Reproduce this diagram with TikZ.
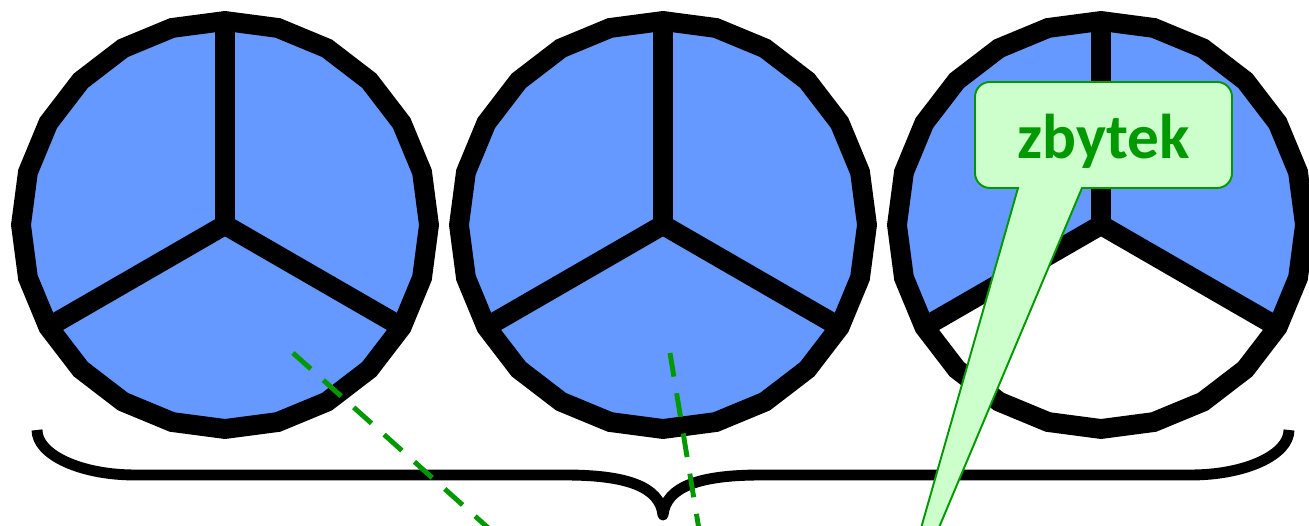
\documentclass[tikz,border=0pt]{standalone}
\usepackage{fontspec}
\setsansfont{Carlito}
\usetikzlibrary{calc}
\definecolor{PieBlue}{HTML}{6699FF}
\definecolor{TagGreen}{HTML}{009900}
\definecolor{TagFill}{HTML}{CCFFCC}
\tikzset{
  rim/.style={draw=black,line width=11.3pt,line join=miter},
  spoke/.style={draw=black,line width=11.3pt,line join=miter},
  hint/.style={TagGreen,line width=2.8pt,dash pattern=on 13.6pt off 9.6pt},
  bracket/.style={draw=black,line width=6.2pt,line join=round},
  tag/.style={draw=TagGreen,fill=TagFill,line width=1.1pt},
}
\begin{document}
\begin{tikzpicture}[x=0.02cm,y=0.02cm]
\useasboundingbox (0,0) rectangle (1309,526);
\clip (0,0) rectangle (1309,526);
% three pies, the last one with its bottom third left empty
\foreach \n/\cx/\low in {1/225/PieBlue,2/663/PieBlue,3/1101/white}{
  \coordinate (c\n) at (\cx,301);
  \fill[PieBlue] (c\n) -- plot[samples=9,domain=90:210] ({\cx+204*cos(\x)},{301+204*sin(\x)}) -- cycle;
  \fill[PieBlue] (c\n) -- plot[samples=9,domain=330:450] ({\cx+204*cos(\x)},{301+204*sin(\x)}) -- cycle;
  \fill[\low] (c\n) -- plot[samples=9,domain=210:330] ({\cx+204*cos(\x)},{301+204*sin(\x)}) -- cycle;
  \draw[rim] plot[samples=25,domain=90:450] ({\cx+204*cos(\x)},{301+204*sin(\x)}) -- cycle;
  \draw[spoke] (c\n) -- ++(90:204);
  \draw[spoke] ($(c\n)+(210:204)$) -- (c\n) -- ($(c\n)+(330:204)$);
}
% brace under the pies
\draw[bracket] (37,96) .. controls (37,71) and (81,51) .. (135,51) -- (565,51)
  .. controls (625,51) and (660,40) .. (663,11)
  .. controls (666,40) and (701,51) .. (761,51) -- (1191,51)
  .. controls (1245,51) and (1289,71) .. (1289,96);
% dashed hints
\coordinate (h1a) at (293,173);
\coordinate (h1b) at (524,-34);
\coordinate (h2a) at (670,173);
\coordinate (h2b) at (704,-34);
\draw[hint] (h1a) -- (h1b);
\draw[hint] (h2a) -- (h2b);
% callout
\coordinate (tip) at (884,-132);
\draw[tag] (1082,338) [rounded corners=8.5pt] -- (1232,338) -- (1232,444) -- (975,444) -- (975,338) [sharp corners] -- (1018,338) -- (tip) -- cycle;
\node[font=\sffamily\bfseries\fontsize{36}{40}\selectfont,text=TagGreen] (zb) at (1103.5,384.5) {zbytek};
\end{tikzpicture}
\end{document}
